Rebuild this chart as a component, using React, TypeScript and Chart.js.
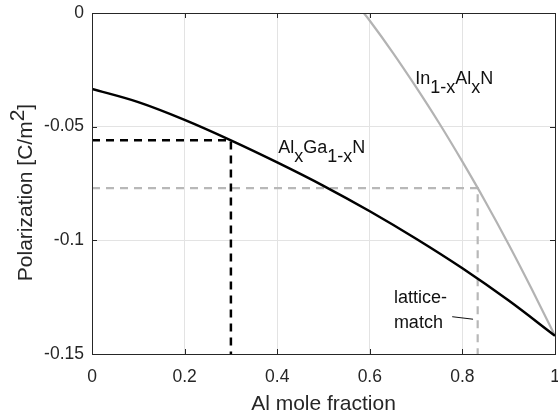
import { useEffect, useRef } from "react";
import { Chart, registerables } from "chart.js";

Chart.register(...registerables);

// Al mole fraction grid for the AlGaN curve
const alFraction = [0, 0.1, 0.2, 0.3, 0.4, 0.5, 0.6, 0.7, 0.8, 0.9, 1.0];
// Total polarization of AlxGa1-xN on GaN [C/m^2]
const alGaNPolarization = [-0.0334, -0.0392, -0.047, -0.056, -0.0657, -0.076, -0.0872, -0.0993, -0.1123, -0.1265, -0.142];

// Al mole fraction grid for the InAlN curve
const inAlNFraction = [0.587, 0.6, 0.65, 0.7, 0.75, 0.8, 0.85, 0.9, 0.95, 1.0];
// Total polarization of In1-xAlxN on GaN [C/m^2]
const inAlNPolarization = [0, -0.0034, -0.0175, -0.0326, -0.0485, -0.0654, -0.0831, -0.1018, -0.1215, -0.142];

// Reference points: Al0.3Ga0.7N and lattice-matched In0.17Al0.83N
const workingX = 0.3;
const workingP = -0.056;
const latticeMatchX = 0.833;
const latticeMatchP = -0.077;

// Axis ranges and ticks
const xMin = 0;
const xMax = 1;
const xStep = 0.2;
const yMin = -0.15;
const yMax = 0;
const yStep = 0.05;

// Annotation anchors in data units
const inAlNLabelPos = { x: 0.698, y: -0.0312 };
const alGaNLabelPos = { x: 0.402, y: -0.0616 };
const latticeLabelPos = { x: 0.652, y: -0.1276 };
const matchLabelPos = { x: 0.652, y: -0.1386 };
const leaderStart = { x: 0.778, y: -0.1336 };
const leaderEnd = { x: 0.823, y: -0.1347 };

const FONT = '"Liberation Sans", Arial, Helvetica, sans-serif';
const AXIS_COLOR = "#262626";

type Run = { text: string; shift?: number };

function drawRuns(ctx: CanvasRenderingContext2D, x: number, y: number, runs: Run[], size: number) {
  ctx.font = `${size}px ${FONT}`;
  ctx.textAlign = "left";
  ctx.textBaseline = "alphabetic";
  let cx = x;
  for (const r of runs) {
    ctx.fillText(r.text, cx, y + (r.shift || 0));
    cx += ctx.measureText(r.text).width;
  }
  return cx - x;
}

function fmt(v: number) {
  if (Math.abs(v) < 1e-9) return "0";
  return String(Number(v.toFixed(2)));
}

const frameAndLabels = {
  id: "frameAndLabels",
  afterDraw(chart: any) {
    const { ctx, chartArea } = chart;
    const xs = chart.scales.x;
    const ys = chart.scales.y;
    const { left, right, top, bottom } = chartArea;
    ctx.save();

    // box
    ctx.strokeStyle = AXIS_COLOR;
    ctx.lineWidth = 1;
    ctx.strokeRect(Math.round(left) + 0.5, Math.round(top) + 0.5, Math.round(right - left), Math.round(bottom - top));

    // inward tick marks on all four sides
    const tl = 5;
    ctx.beginPath();
    for (const t of xs.ticks) {
      const px = Math.round(xs.getPixelForValue(t.value)) + 0.5;
      ctx.moveTo(px, bottom);
      ctx.lineTo(px, bottom - tl);
      ctx.moveTo(px, top);
      ctx.lineTo(px, top + tl);
    }
    for (const t of ys.ticks) {
      const py = Math.round(ys.getPixelForValue(t.value)) + 0.5;
      ctx.moveTo(left, py);
      ctx.lineTo(left + tl, py);
      ctx.moveTo(right, py);
      ctx.lineTo(right - tl, py);
    }
    ctx.stroke();

    // axis titles
    ctx.fillStyle = AXIS_COLOR;
    ctx.font = `21px ${FONT}`;
    ctx.textAlign = "center";
    ctx.textBaseline = "alphabetic";
    ctx.fillText("Al mole fraction", (left + right) / 2, 410);

    ctx.save();
    ctx.translate(32, (top + bottom) / 2 + 9);
    ctx.rotate(-Math.PI / 2);
    ctx.font = `21px ${FONT}`;
    const yRuns: Run[] = [
      { text: "Polarization [C/m" },
      { text: "2", shift: -8 },
      { text: "]" },
    ];
    let w = 0;
    for (const r of yRuns) w += ctx.measureText(r.text).width;
    drawRuns(ctx, -w / 2, 0, yRuns, 21);
    ctx.restore();

    // curve annotations
    ctx.fillStyle = "#111111";
    drawRuns(
      ctx,
      xs.getPixelForValue(inAlNLabelPos.x),
      ys.getPixelForValue(inAlNLabelPos.y),
      [{ text: "In" }, { text: "1-x", shift: 9 }, { text: "Al" }, { text: "x", shift: 9 }, { text: "N" }],
      18
    );
    drawRuns(
      ctx,
      xs.getPixelForValue(alGaNLabelPos.x),
      ys.getPixelForValue(alGaNLabelPos.y),
      [{ text: "Al" }, { text: "x", shift: 9 }, { text: "Ga" }, { text: "1-x", shift: 9 }, { text: "N" }],
      18
    );
    drawRuns(ctx, xs.getPixelForValue(latticeLabelPos.x), ys.getPixelForValue(latticeLabelPos.y), [{ text: "lattice-" }], 18);
    drawRuns(ctx, xs.getPixelForValue(matchLabelPos.x), ys.getPixelForValue(matchLabelPos.y), [{ text: "match" }], 18);

    ctx.strokeStyle = "#111111";
    ctx.lineWidth = 1;
    ctx.beginPath();
    ctx.moveTo(xs.getPixelForValue(leaderStart.x), ys.getPixelForValue(leaderStart.y));
    ctx.lineTo(xs.getPixelForValue(leaderEnd.x), ys.getPixelForValue(leaderEnd.y));
    ctx.stroke();

    ctx.restore();
  },
};

export default function App() {
  const canvasRef = useRef<HTMLCanvasElement | null>(null);

  useEffect(() => {
    document.body.style.margin = "0";
    const canvas = canvasRef.current;
    if (!canvas) return;

    const toPoints = (xs: number[], ys: number[]) => xs.map((x, i) => ({ x, y: ys[i] }));

    const chart = new Chart(canvas, {
      type: "scatter",
      data: {
        datasets: [
          {
            label: "AlGaN",
            data: toPoints(alFraction, alGaNPolarization),
            showLine: true,
            borderColor: "#000000",
            borderWidth: 2.5,
            pointRadius: 0,
            cubicInterpolationMode: "monotone",
          },
          {
            label: "InAlN",
            data: toPoints(inAlNFraction, inAlNPolarization),
            showLine: true,
            borderColor: "#b3b3b3",
            borderWidth: 2.2,
            pointRadius: 0,
            cubicInterpolationMode: "monotone",
          },
          {
            label: "AlGaN reference",
            data: [
              { x: xMin, y: workingP },
              { x: workingX, y: workingP },
              { x: workingX, y: yMin },
            ],
            showLine: true,
            borderColor: "#000000",
            borderWidth: 2.5,
            borderDash: [8, 6],
            pointRadius: 0,
          },
          {
            label: "lattice match",
            data: [
              { x: xMin, y: latticeMatchP },
              { x: latticeMatchX, y: latticeMatchP },
              { x: latticeMatchX, y: yMin },
            ],
            showLine: true,
            borderColor: "#b8b8b8",
            borderWidth: 2.2,
            borderDash: [8, 6],
            pointRadius: 0,
          },
        ],
      } as any,
      options: {
        animation: false,
        responsive: false,
        maintainAspectRatio: false,
        layout: { padding: { top: 13, right: 3, left: 0, bottom: 0 } },
        plugins: { legend: { display: false }, tooltip: { enabled: false } },
        scales: {
          x: {
            type: "linear",
            min: xMin,
            max: xMax,
            ticks: {
              stepSize: xStep,
              color: AXIS_COLOR,
              font: { family: FONT, size: 17.5 },
              padding: 13,
              maxRotation: 0,
              callback: (v: any) => fmt(Number(v)),
            },
            grid: { color: "#e3e3e3", drawTicks: false, lineWidth: 1 },
            border: { display: false },
            afterFit: (s: any) => {
              s.height = 62;
              s.paddingLeft = 0;
              s.paddingRight = 0;
            },
          },
          y: {
            type: "linear",
            min: yMin,
            max: yMax,
            ticks: {
              stepSize: yStep,
              color: AXIS_COLOR,
              font: { family: FONT, size: 17.5 },
              padding: 8,
              callback: (v: any) => fmt(Number(v)),
            },
            grid: { color: "#e3e3e3", drawTicks: false, lineWidth: 1 },
            border: { display: false },
            afterFit: (s: any) => {
              s.width = 92;
              s.paddingTop = 0;
              s.paddingBottom = 0;
            },
          },
        },
      } as any,
      plugins: [frameAndLabels],
    });

    return () => chart.destroy();
  }, []);

  return <canvas ref={canvasRef} width={558} height={416} style={{ display: "block" }} />;
}
